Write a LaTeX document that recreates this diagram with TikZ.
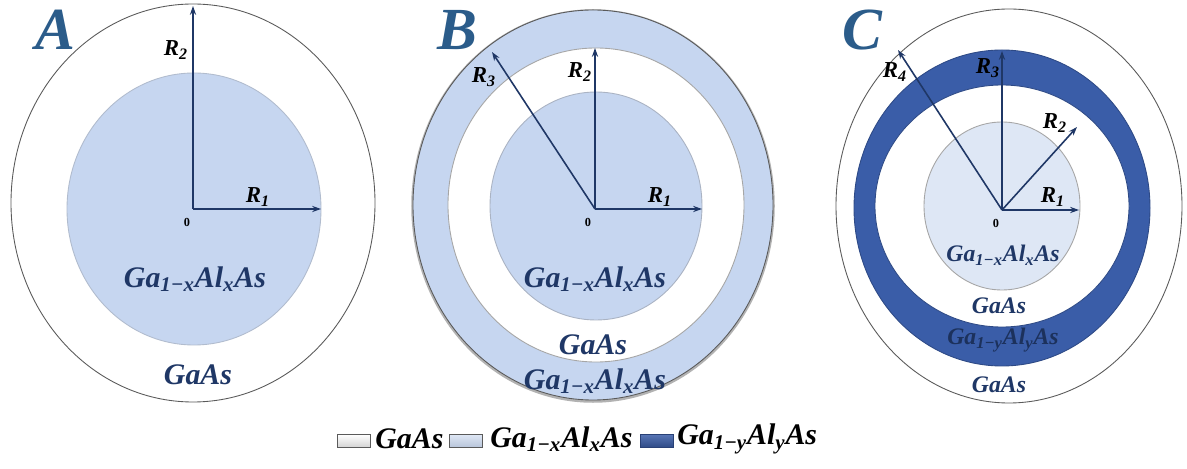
\documentclass[tikz,border=0pt]{standalone}
\usepackage{fontspec}
\setmainfont{Liberation Serif}
\usetikzlibrary{arrows.meta}
\definecolor{lblue}{HTML}{C6D6F0}
\definecolor{llblue}{HTML}{DEE7F5}
\definecolor{dblue}{HTML}{3A5DA8}
\definecolor{navy}{HTML}{1F3766}
\definecolor{letc}{HTML}{2B5C8A}
\definecolor{edge}{HTML}{5A5A5A}
\newcommand{\sbs}[1]{\textsubscript{#1}}
\newcommand{\alloyx}{Ga\sbs{1−x}Al\sbs{x}As}
\newcommand{\alloyy}{Ga\sbs{1−y}Al\sbs{y}As}
\begin{document}
\begin{tikzpicture}[x=0.02cm,y=0.02cm,
  shell/.style={draw=edge,line width=0.5pt},
  radius/.style={draw=navy,line width=0.9pt,-{Stealth[length=5pt,width=3.5pt]}},
  rlab/.style={text=black,font=\fontsize{13}{14}\selectfont\bfseries\itshape,inner sep=0pt},
  zlab/.style={text=black,font=\fontsize{7}{8}\selectfont\bfseries,inner sep=0pt},
  mlab/.style={text=navy,font=\fontsize{17}{18}\selectfont\bfseries\itshape,inner sep=0pt},
  slab/.style={text=navy,font=\fontsize{13.5}{14}\selectfont\bfseries\itshape,inner sep=0pt},
  panel/.style={text=letc,font=\fontsize{34}{36}\selectfont\bfseries\itshape,inner sep=0pt},
  legbox/.style={draw=edge,line width=0.4pt,minimum width=33*0.02cm,minimum height=13*0.02cm,inner sep=0pt},
  legtxt/.style={text=black,font=\fontsize{17}{18}\selectfont\bfseries\itshape,inner sep=0pt,anchor=west}]
\useasboundingbox (0,0) rectangle (1187,-469);
\fill[white] (0,0) rectangle (1187,-469);

% ---------- Panel A ----------
\draw[shell,fill=white] (193,-203) ellipse [x radius=182,y radius=199];
\draw[shell,draw=lblue!70!gray,fill=lblue] (194,-209) ellipse [x radius=127,y radius=136];
\coordinate (A0) at (193,-209);
\coordinate (A1) at (321,-209);
\coordinate (A2) at (193,-6);
\draw[radius] (A0) -- (A1);
\draw[radius] (A0) -- (A2);
\fill[black] (A0) circle [radius=3];
\node[panel] (Alet) at (55,-30) {A};
\node[rlab] (AR2) at (176,-50) {R\sbs{2}};
\node[rlab] (AR1) at (258,-197) {R\sbs{1}};
\node[zlab] (Az) at (187,-222) {0};
\node[mlab] (Am1) at (195,-279) {\alloyx};
\node[mlab] (Am2) at (198,-375) {GaAs};

% ---------- Panel B ----------
\draw[line width=2pt,draw=gray!60] (593,-206) ellipse [x radius=180,y radius=195];
\draw[shell,fill=lblue] (593,-205) ellipse [x radius=180,y radius=195];
\draw[shell,draw=gray!70,fill=white] (596,-205) ellipse [x radius=148,y radius=157];
\draw[shell,draw=lblue!60!gray,fill=lblue] (596,-206) ellipse [x radius=106,y radius=114];
\coordinate (B0) at (595,-209);
\coordinate (B1) at (702,-209);
\coordinate (B2) at (595,-48);
\coordinate (B3) at (492,-52);
\draw[radius] (B0) -- (B1);
\draw[radius] (B0) -- (B2);
\draw[radius] (B0) -- (B3);
\fill[black] (B0) circle [radius=3];
\node[panel] (Blet) at (457,-30) {B};
\node[rlab] (BR3) at (484,-77) {R\sbs{3}};
\node[rlab] (BR2) at (580,-72) {R\sbs{2}};
\node[rlab] (BR1) at (660,-197) {R\sbs{1}};
\node[zlab] (Bz) at (588,-222) {0};
\node[mlab] (Bm1) at (595,-279) {\alloyx};
\node[mlab] (Bm2) at (593,-345) {GaAs};
\node[mlab] (Bm3) at (595,-381) {\alloyx};

% ---------- Panel C ----------
\draw[shell,fill=white] (1009,-206) ellipse [x radius=173,y radius=197];
\draw[shell,draw=dblue!80!black,fill=dblue] (1002,-208) ellipse [x radius=148,y radius=158];
\draw[shell,draw=dblue!80!black,fill=white] (1002,-206) ellipse [x radius=127,y radius=121];
\draw[shell,draw=gray!70,fill=llblue] (1002,-206) ellipse [x radius=78,y radius=84];
\coordinate (C0) at (1002,-210);
\coordinate (C1) at (1079,-210);
\coordinate (C2) at (1077,-127);
\coordinate (C3) at (1002,-51);
\coordinate (C4) at (898,-50);
\draw[radius] (C0) -- (C1);
\draw[radius] (C0) -- (C2);
\draw[radius] (C0) -- (C3);
\draw[radius] (C0) -- (C4);
\fill[black] (C0) circle [radius=3];
\node[panel] (Clet) at (862,-30) {C};
\node[rlab] (CR4) at (895,-72) {R\sbs{4}};
\node[rlab] (CR3) at (988,-68) {R\sbs{3}};
\node[rlab] (CR2) at (1055,-123) {R\sbs{2}};
\node[rlab] (CR1) at (1053,-197) {R\sbs{1}};
\node[zlab] (Cz) at (996,-223) {0};
\node[slab] (Cm1) at (1003,-255) {\alloyx};
\node[slab] (Cm2) at (999,-306) {GaAs};
\node[slab,text=navy!90!black] (Cm3) at (1003,-340) {\alloyy};
\node[slab] (Cm4) at (999,-385) {GaAs};

% ---------- Legend ----------
\node[legbox,top color=white,bottom color=gray!35] (L1) at (354,-441) {};
\node[legtxt] (T1) at (375,-439) {GaAs};
\node[legbox,top color=llblue,bottom color=lblue!80!gray] (L2) at (466,-441) {};
\node[legtxt] (T2) at (490,-439) {\alloyx};
\node[legbox,draw=dblue!70!black,top color=dblue!85!white,bottom color=dblue!80!black] (L3) at (657,-441) {};
\node[legtxt] (T3) at (677,-439) {\alloyy};
\end{tikzpicture}
\end{document}
